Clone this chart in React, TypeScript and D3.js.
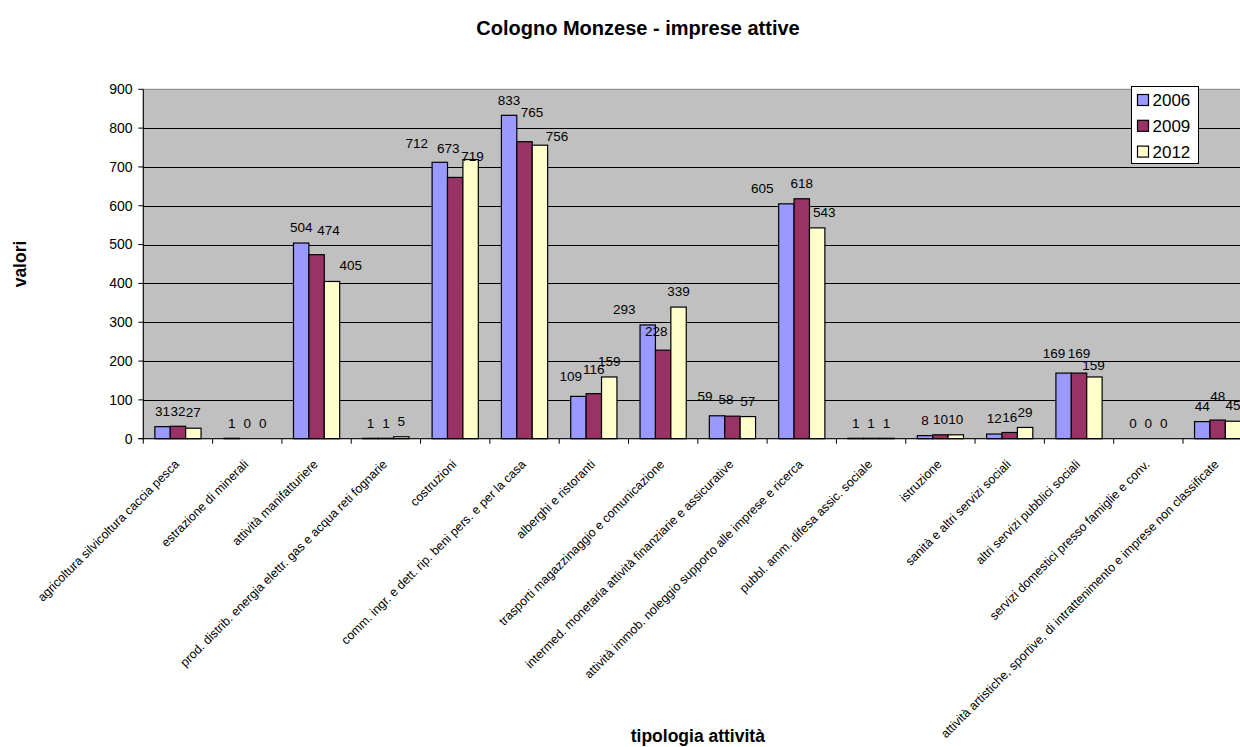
import React from "react";
import * as d3 from "d3";

const categories: string[] = [
  "agricoltura silvicoltura caccia pesca",
  "estrazione di minerali",
  "attività manifatturiere",
  "prod. distrib. energia elettr. gas e acqua reti fognarie",
  "costruzioni",
  "comm. ingr. e dett. rip. beni pers. e per la casa",
  "alberghi e ristoranti",
  "trasporti magazzinaggio e comunicazione",
  "intermed. monetaria attività finanziarie e assicurative",
  "attività immob. noleggio supporto alle imprese e ricerca",
  "pubbl. amm. difesa assic. sociale",
  "istruzione",
  "sanità e altri servizi sociali",
  "altri servizi pubblici sociali",
  "servizi domestici presso famiglie e conv.",
  "attività artistiche, sportive, di intrattenimento e imprese non classificate",
];

const seriesNames: string[] = ["2006", "2009", "2012"];
const values2006: number[] = [31, 1, 504, 1, 712, 833, 109, 293, 59, 605, 1, 8, 12, 169, 0, 44];
const values2009: number[] = [32, 0, 474, 1, 673, 765, 116, 228, 58, 618, 1, 10, 16, 169, 0, 48];
const values2012: number[] = [27, 0, 405, 5, 719, 756, 159, 339, 57, 543, 1, 10, 29, 159, 0, 45];
const yTicks: number[] = [0, 100, 200, 300, 400, 500, 600, 700, 800, 900];

const title = "Cologno Monzese - imprese attive";
const yTitle = "valori";
const xTitle = "tipologia attività";

// label nudges (category, series, dx, dy) – layout only
const labelNudges: [number, number, number, number][] = [
  [2, 1, 12, -8.5], [2, 2, 18.7, -1],
  [4, 0, -23, -4], [4, 1, -7, -13.5], [4, 2, 2, 12],
  [5, 1, 7.5, -14], [5, 2, 17, 7],
  [6, 0, -7.7, -5], [6, 1, 0, -9],
  [7, 0, -23.6, 0], [7, 1, -7, -3.5],
  [8, 0, -12, -4], [8, 1, -6.4, -1.5],
  [9, 0, -24, 0], [9, 2, 7, 0],
  [13, 0, -9.5, -4], [13, 1, 0, -4], [13, 2, -1, 3.5],
  [15, 1, 0, -8],
];

const colors = ["#9999FF", "#993366", "#FFFFCC"];
const FONT = "'Liberation Sans', Arial, Helvetica, sans-serif";

export default function App() {
  const W = 1240;
  const H = 747;
  const plot = { left: 143.3, right: 1252.3, top: 89.3, bottom: 438.7 };
  const series = [values2006, values2009, values2012];

  const x = d3.scaleBand<string>().domain(categories).range([plot.left, plot.right]).padding(0);
  const xi = d3
    .scaleBand<string>()
    .domain(seriesNames)
    .range([0, x.bandwidth()])
    .paddingInner(0)
    .paddingOuter(0.75);
  const y = d3.scaleLinear().domain([0, 900]).range([plot.bottom, plot.top]);

  const nudge = (c: number, s: number) => {
    const n = labelNudges.find((d) => d[0] === c && d[1] === s);
    return n ? [n[2], n[3]] : [0, 0];
  };

  const tickBounds = d3.range(categories.length + 1).map((i) => plot.left + i * x.step());

  return (
    <svg
      width={W}
      height={H}
      style={{ position: "absolute", left: 0, top: 0, background: "#fff" }}
      fontFamily={FONT}
    >
      <rect x={0} y={0} width={W} height={H} fill="#fff" />
      <text x={638} y={35} textAnchor="middle" fontSize={20} fontWeight="bold" fill="#000">
        {title}
      </text>
      {/* plot background */}
      <rect
        x={plot.left}
        y={plot.top}
        width={plot.right - plot.left}
        height={plot.bottom - plot.top}
        fill="#C0C0C0"
        stroke="#808080"
        strokeWidth={1}
      />
      {/* gridlines */}
      {yTicks
        .filter((t) => t > 0 && t < 900)
        .map((t) => (
          <line
            key={"g" + t}
            x1={plot.left}
            x2={plot.right}
            y1={Math.round(y(t)) + 0.5}
            y2={Math.round(y(t)) + 0.5}
            stroke="#000"
            strokeWidth={1}
          />
        ))}
      {/* bars */}
      {categories.map((c, ci) =>
        series.map((vals, si) => {
          const bx = (x(c) as number) + (xi(seriesNames[si]) as number);
          const top = y(vals[ci]);
          return (
            <rect
              key={`b${ci}-${si}`}
              x={bx}
              y={top}
              width={xi.bandwidth()}
              height={Math.max(0, plot.bottom - top)}
              fill={colors[si]}
              stroke="#000"
              strokeWidth={1.2}
            />
          );
        })
      )}
      {/* axes */}
      <line x1={plot.left} x2={plot.left} y1={plot.top} y2={plot.bottom} stroke="#000" />
      <line x1={plot.left - 5} x2={plot.right} y1={plot.bottom} y2={plot.bottom} stroke="#000" />
      {yTicks.map((t) => (
        <g key={"yt" + t}>
          <line x1={plot.left - 5} x2={plot.left} y1={y(t)} y2={y(t)} stroke="#000" />
          <text
            x={132.5}
            y={y(t)}
            dy="0.35em"
            textAnchor="end"
            fontSize={14}
            fill="#000"
          >
            {t}
          </text>
        </g>
      ))}
      {tickBounds.map((tx, i) => (
        <line
          key={"xt" + i}
          x1={tx}
          x2={tx}
          y1={plot.bottom}
          y2={plot.bottom + 5}
          stroke="#000"
        />
      ))}
      {/* data labels */}
      {categories.map((c, ci) =>
        series.map((vals, si) => {
          const cx = (x(c) as number) + (xi(seriesNames[si]) as number) + xi.bandwidth() / 2;
          const [dx, dy] = nudge(ci, si);
          return (
            <text
              key={`l${ci}-${si}`}
              x={cx + dx}
              y={y(vals[ci]) - 15.5 + dy}
              dy="0.35em"
              textAnchor="middle"
              fontSize={13.5}
              fill="#000"
            >
              {vals[ci]}
            </text>
          );
        })
      )}
      {/* category labels */}
      {categories.map((c) => {
        const cx = (x(c) as number) + x.bandwidth() / 2;
        return (
          <text
            key={"cl" + c}
            transform={`translate(${cx + 2},${465}) rotate(-45)`}
            textAnchor="end"
            fontSize={12.4}
            fill="#000"
          >
            {c}
          </text>
        );
      })}
      {/* axis titles */}
      <text
        transform={`translate(26,${(plot.top + plot.bottom) / 2}) rotate(-90)`}
        textAnchor="middle"
        fontSize={17.5}
        fontWeight="bold"
        fill="#000"
      >
        {yTitle}
      </text>
      <text
        x={(plot.left + plot.right) / 2}
        y={742}
        textAnchor="middle"
        fontSize={17.5}
        fontWeight="bold"
        fill="#000"
      >
        {xTitle}
      </text>
      {/* legend */}
      <g>
        <rect x={1131.5} y={86.5} width={67} height={77} fill="#fff" stroke="#000" strokeWidth={1} />
        {seriesNames.map((s, i) => (
          <g key={"lg" + s} transform={`translate(1137.5,${100 + i * 25.8})`}>
            <rect x={0} y={-5.5} width={11} height={11} fill={colors[i]} stroke="#000" strokeWidth={1.2} />
            <text x={15} y={0} dy="0.36em" fontSize={17} fill="#000">
              {s}
            </text>
          </g>
        ))}
      </g>
    </svg>
  );
}
